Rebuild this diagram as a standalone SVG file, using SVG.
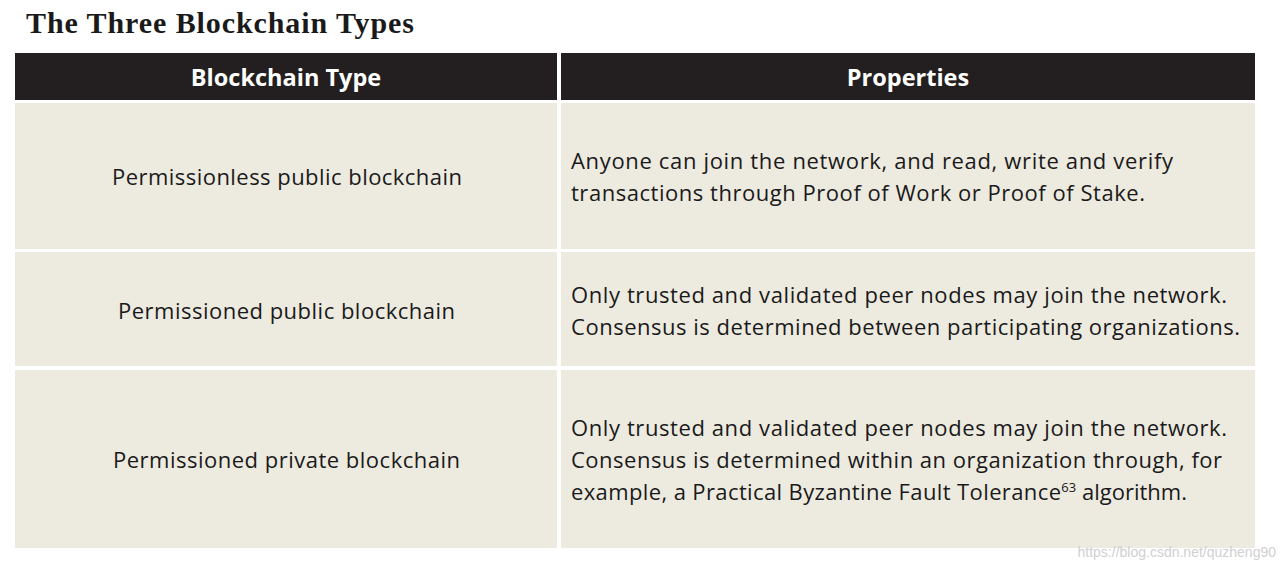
<svg xmlns="http://www.w3.org/2000/svg" width="1286" height="570" viewBox="0 0 1286 570">
<style>
.cell{fill:#edeae0}
.hd{fill:#231f20}
.t{font-family:"Open Sans","Liberation Sans",sans-serif;font-size:22px;fill:#1a1a1a}
.h{font-family:"Open Sans","Liberation Sans",sans-serif;font-size:23.5px;font-weight:bold;fill:#ffffff}
</style>
<rect width="1286" height="570" fill="#ffffff"/>
<text x="26" y="33" font-family="Liberation Serif,serif" font-size="30" font-weight="bold" fill="#1a1a1a" textLength="388">The Three Blockchain Types</text>
<g id="header">
<rect class="hd" x="15" y="53" width="542" height="47"/>
<rect class="hd" x="561" y="53" width="694" height="47"/>
<text class="h" x="286" y="86" text-anchor="middle">Blockchain Type</text>
<text class="h" x="908" y="86" text-anchor="middle">Properties</text>
</g>
<g id="row1">
<rect class="cell" x="15" y="103" width="542" height="146"/>
<rect class="cell" x="561" y="103" width="694" height="146"/>
<text class="t" x="112" y="185" textLength="350">Permissionless public blockchain</text>
<text class="t" x="571" y="169" textLength="602">Anyone can join the network, and read, write and verify</text>
<text class="t" x="571" y="201" textLength="574">transactions through Proof of Work or Proof of Stake.</text>
</g>
<g id="row2">
<rect class="cell" x="15" y="252" width="542" height="114"/>
<rect class="cell" x="561" y="252" width="694" height="114"/>
<text class="t" x="118" y="319" textLength="337">Permissioned public blockchain</text>
<text class="t" x="571" y="303" textLength="656">Only trusted and validated peer nodes may join the network.</text>
<text class="t" x="571" y="335" textLength="669">Consensus is determined between participating organizations.</text>
</g>
<g id="row3">
<rect class="cell" x="15" y="370" width="542" height="178"/>
<rect class="cell" x="561" y="370" width="694" height="178"/>
<text class="t" x="113" y="468" textLength="347">Permissioned private blockchain</text>
<text class="t" x="571" y="436" textLength="656">Only trusted and validated peer nodes may join the network.</text>
<text class="t" x="571" y="468" textLength="651">Consensus is determined within an organization through, for</text>
<text class="t" x="571" y="500"><tspan textLength="490">example, a Practical Byzantine Fault Tolerance</tspan><tspan font-size="13" dy="-8">63</tspan><tspan dy="8"> algorithm.</tspan></text>
</g>
<text x="1276" y="557" text-anchor="end" font-family="Liberation Sans,sans-serif" font-size="14" fill="#d0d0d0">https://blog.csdn.net/quzheng90</text>
</svg>
